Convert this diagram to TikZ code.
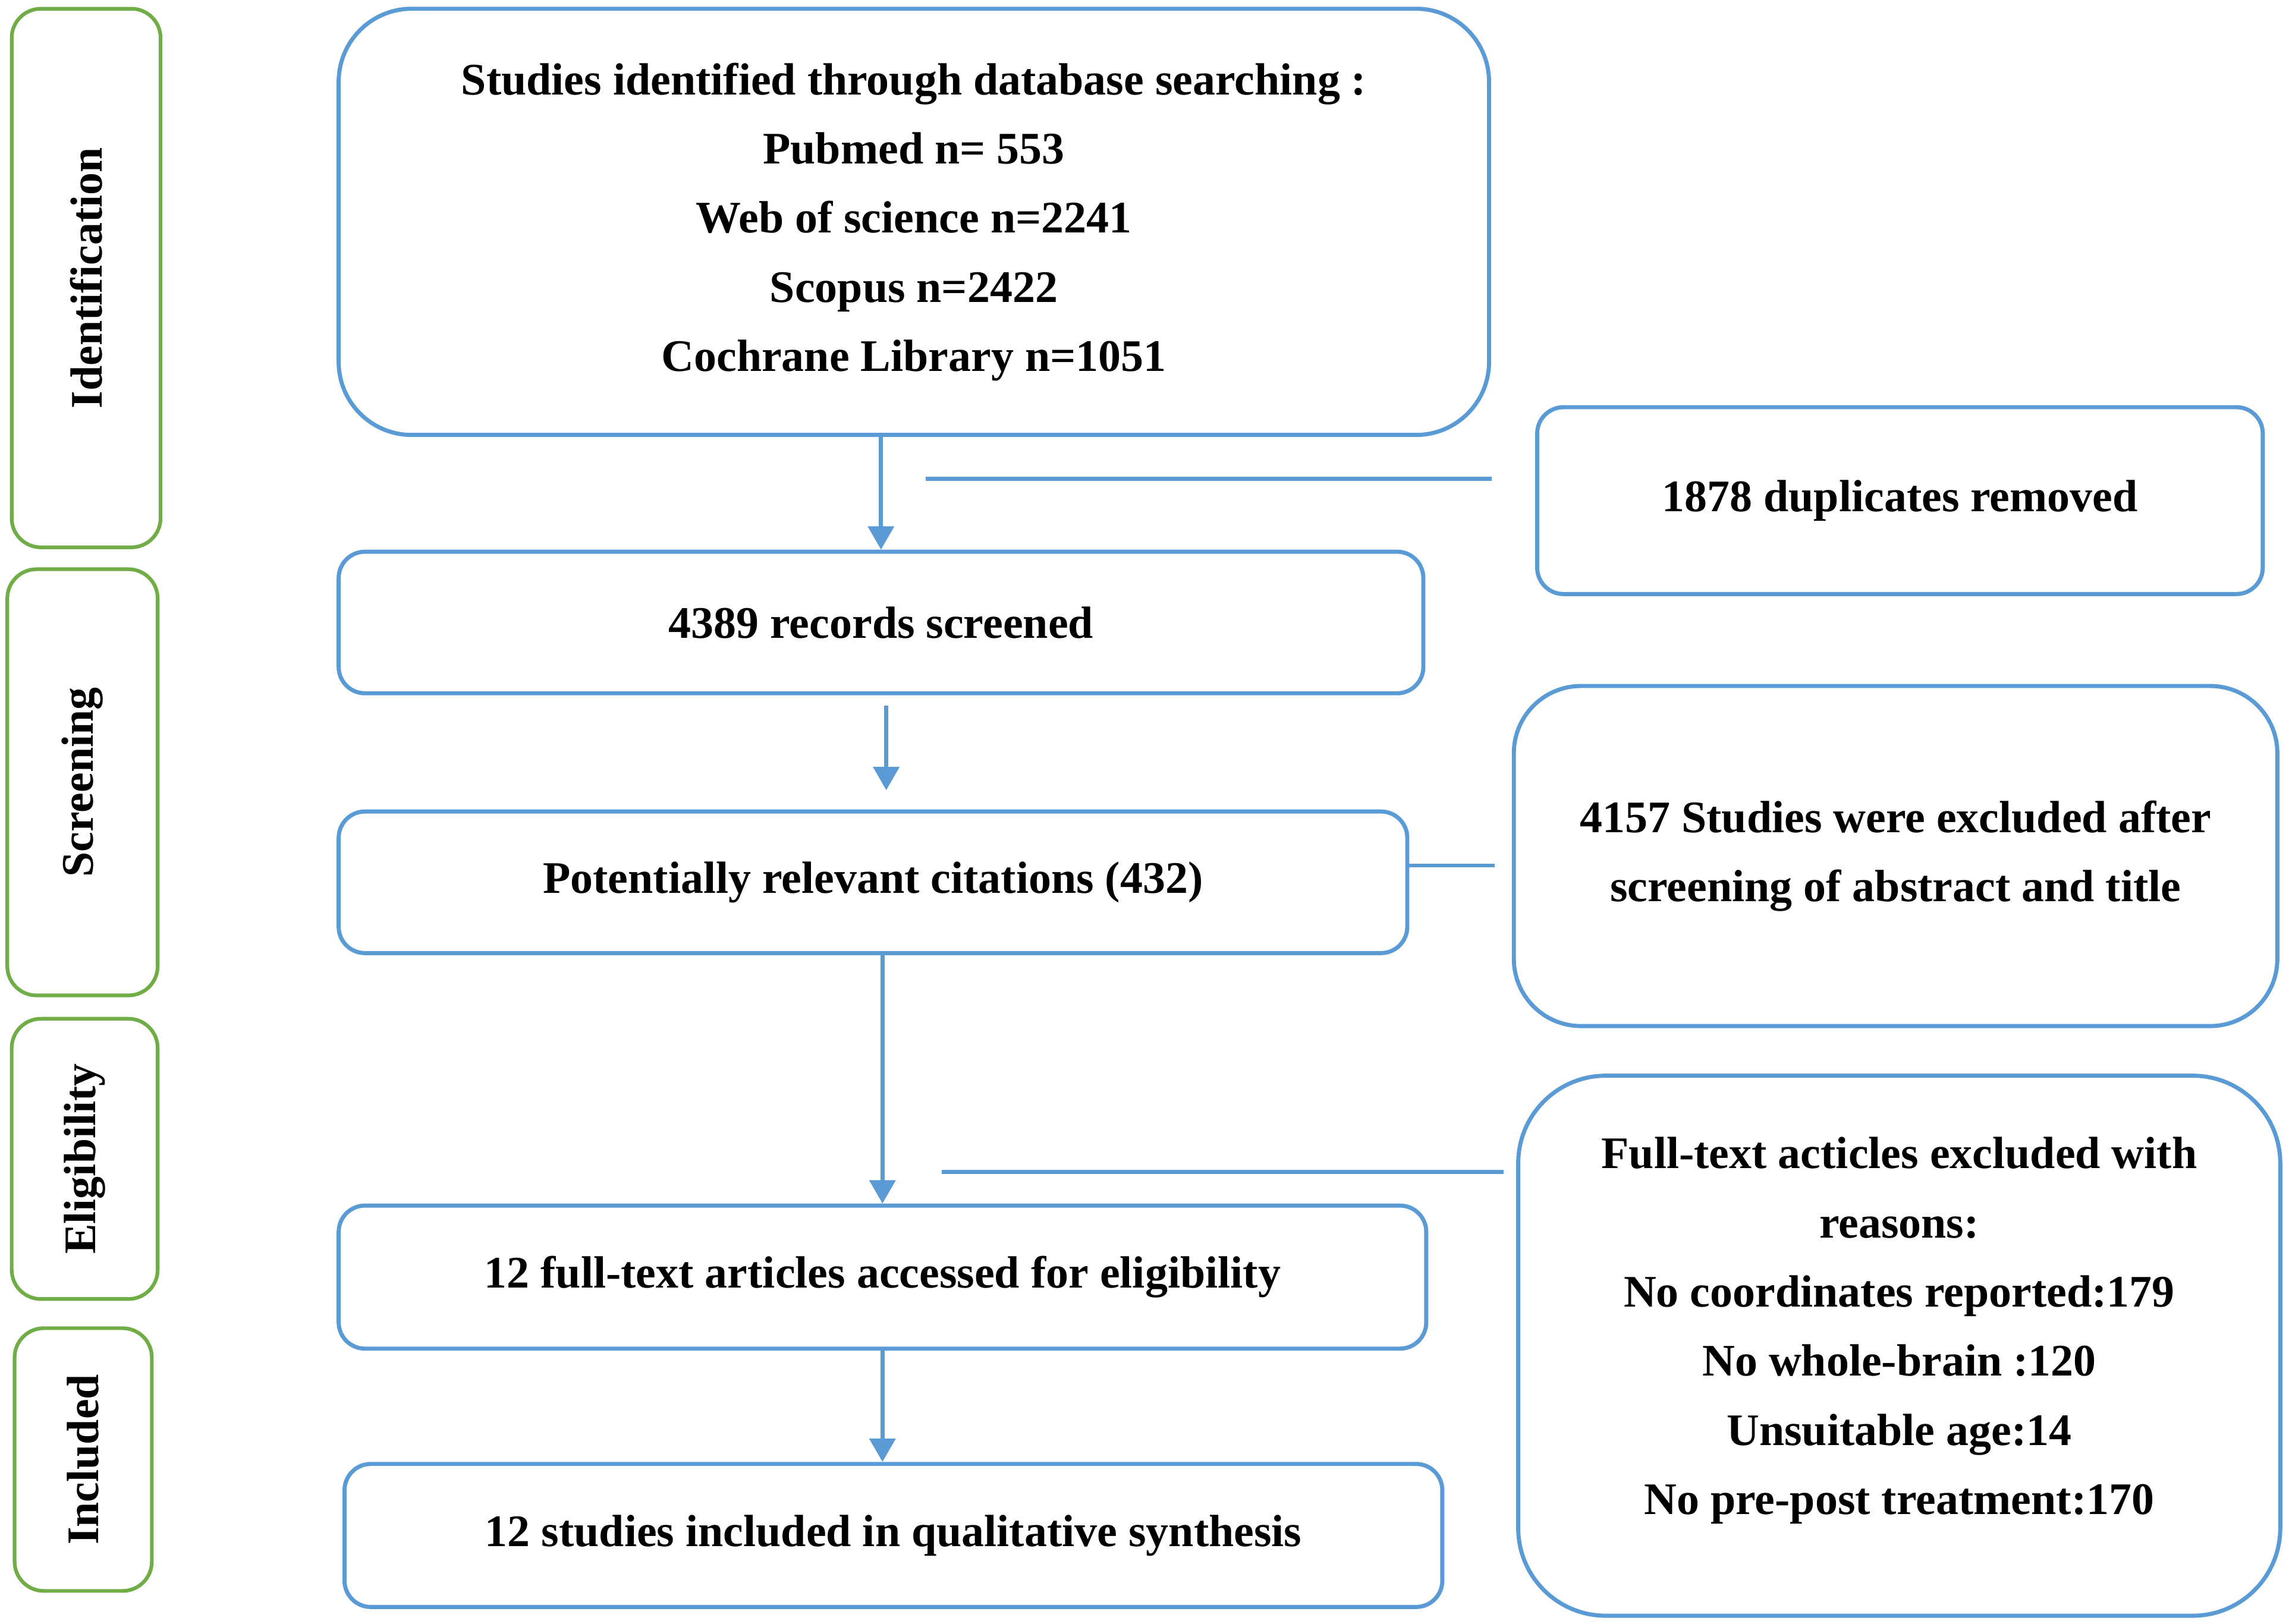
\documentclass[tikz,border=0pt]{standalone}
\usepackage{fontspec}
\setmainfont{Liberation Serif}
\usetikzlibrary{arrows.meta,calc}
\definecolor{boxblue}{RGB}{91,155,213}
\definecolor{phasegreen}{RGB}{112,173,71}

\begin{document}
\begin{tikzpicture}[box/.style={draw=boxblue,line width=2pt,rounded corners=0.45cm,align=center,inner sep=0pt,font=\fontsize{22}{33.7}\selectfont\bfseries},
	phase/.style={draw=phasegreen,line width=1.8pt,rounded corners=0.5cm,rotate=90,inner sep=0pt,font=\fontsize{22}{33.7}\selectfont\bfseries},
	arr/.style={draw=boxblue,line width=2pt,-{Triangle[length=0.4cm,width=0.44cm]}},
	ln/.style={draw=boxblue,line width=2pt}]
\useasboundingbox (0,0) rectangle (39.2,-27.81);

% phase labels on the left
\foreach \name/\x/\y/\w/\h/\txt in {ident/1.475/-4.7625/9.225/2.55/Identification,
	screen/1.4125/-13.4/7.3/2.575/Screening,
	elig/1.45/-19.85/4.8/2.5/Eligibility,
	incl/1.425/-25/4.5/2.35/Included}
	\node[phase,minimum width=\w cm,minimum height=\h cm] (\name) at (\x,\y) {\txt};

% main column
\node[box,rounded corners=1.25cm,minimum width=19.7cm,minimum height=7.3cm] (src) at (15.65,-3.8)
	{Studies identified through database searching :\\Pubmed n= 553\\Web of science n=2241\\Scopus n=2422\\Cochrane Library n=1051};
\node[box,minimum width=18.575cm,minimum height=2.425cm] (scr) at (15.0875,-10.6625) {4389 records screened};
\node[box,minimum width=18.3cm,minimum height=2.425cm] (rel) at (14.95,-15.1125) {Potentially relevant citations (432)};
\node[box,minimum width=18.625cm,minimum height=2.45cm] (full) at (15.1125,-21.875) {12 full-text articles accessed for eligibility};
\node[box,minimum width=18.8cm,minimum height=2.45cm] (done) at (15.3,-26.3) {12 studies included in qualitative synthesis};

% exclusions on the right
\node[box,minimum width=12.425cm,minimum height=3.2cm] (dup) at (32.5375,-8.575) {1878 duplicates removed};
\node[box,rounded corners=1.15cm,minimum width=13.075cm,minimum height=5.825cm] (exabs) at (32.4625,-14.6625)
	{4157 Studies were excluded after\\screening of abstract and title};
\node[box,rounded corners=1.5cm,text depth=0.68cm,minimum width=13.05cm,minimum height=9.25cm] (exfull) at (32.525,-23.05)
	{Full-text acticles excluded with\\reasons:\\No coordinates reported:179\\No whole-brain :120\\Unsuitable age:14\\No pre-post treatment:170};

% arrows
\draw[arr] (src.south -| scr.north) -- (scr.north);
\draw[arr] ($(scr.south)+(0.09,-0.18)$) -- ($(scr.south |- rel.north)+(0.09,0.33)$);
\draw[arr] (rel.south -| full.north) -- (full.north);
\draw[arr] (full.south) -- (full.south |- done.north);

% side lines
\coordinate (d1) at (15.85,-8.2);
\coordinate (d2) at (25.55,-8.2);
\draw[ln] (d1) -- (d2);
\coordinate (e2) at (25.6,-14.825);
\draw[ln] (rel.east |- e2) -- (e2);
\coordinate (f1) at (16.125,-20.075);
\coordinate (f2) at (25.75,-20.075);
\draw[ln] (f1) -- (f2);
\end{tikzpicture}
\end{document}
